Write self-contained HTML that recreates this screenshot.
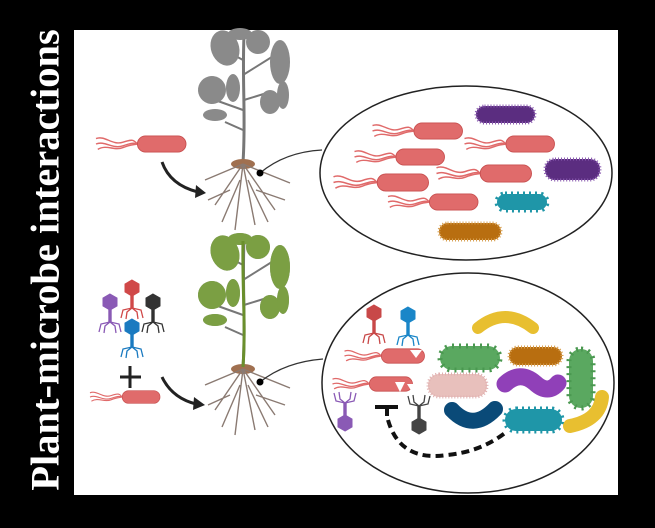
<!DOCTYPE html>
<html><head><meta charset="utf-8"><style>
html,body{margin:0;padding:0;background:#000}
#w{position:relative;width:655px;height:528px;background:#000;overflow:hidden}
#t{position:absolute;left:45px;top:260px;transform:translate(-50%,-50%) rotate(-90deg);white-space:nowrap;color:#fff;font:bold 40.5px "Liberation Serif",serif;}
svg{position:absolute;left:0;top:0}
</style></head><body><div id="w">
<svg width="655" height="528" viewBox="0 0 655 528">
<defs>
<symbol id="rod" viewBox="0 0 100 20" overflow="visible">
<path d="M0 4 C10 0 18 12 30 8 S42 6 46 10 M0 10 C10 6 18 16 30 12 S42 9 46 10 M2 16 C12 10 20 18 30 14 S42 11 46 10" stroke="#e06a6a" stroke-width="1.6" fill="none"/>
<rect x="46" y="1" width="54" height="18" rx="9" fill="#e06b6b" stroke="#c85050" stroke-width="1"/>
</symbol>
<symbol id="ph" viewBox="-12 -10 24 40" overflow="visible">
<polygon points="0,-8 7,-4 7,4 0,8 -7,4 -7,-4"/>
<rect x="-1.2" y="8" width="2.4" height="12"/>
<path d="M0 20 L-9 22 L-11 30 M0 20 L-5 24 L-6 31 M0 20 L9 22 L11 30 M0 20 L5 24 L6 31" fill="none" stroke-width="1.3"/>
</symbol>
<g id="plant">
<path d="M244 36 C242 80 246 120 243 162" stroke="#777" stroke-width="3" fill="none"/>
<path d="M243 75 L275 55 M244 100 L270 92 M243 60 L215 45 M243 110 L215 100 M243 130 L225 122" stroke="#777" stroke-width="2"/>
<g fill="#8a8a8a">
<ellipse cx="225" cy="48" rx="14" ry="18" transform="rotate(-20 225 48)"/>
<ellipse cx="258" cy="42" rx="12" ry="12"/>
<ellipse cx="280" cy="62" rx="10" ry="22"/>
<ellipse cx="212" cy="90" rx="14" ry="14" transform="rotate(30 212 90)"/>
<ellipse cx="233" cy="88" rx="7" ry="14"/>
<ellipse cx="270" cy="102" rx="10" ry="12"/>
<ellipse cx="215" cy="115" rx="12" ry="6"/>
<ellipse cx="240" cy="34" rx="12" ry="6"/>
<ellipse cx="283" cy="95" rx="6" ry="14"/>
</g>
<ellipse cx="243" cy="164" rx="12" ry="5" fill="#a07050"/>
<path d="M243 164 L235 230 M243 164 L255 225 M243 164 L215 205 M243 164 L275 210 M243 164 L205 180 M243 164 L290 183 M240 180 L222 222 M248 180 L268 222 M230 190 L208 200 M256 190 L285 200" stroke="#8a7a72" stroke-width="1.4" fill="none"/>
</g>
</defs>
<rect x="74" y="30" width="544" height="465" fill="#fff"/>
<use href="#plant"/>
<use href="#plant" transform="translate(0,205)"/>
<g transform="translate(0,205)" fill="#7aa23c" opacity="0.9">
<ellipse cx="225" cy="48" rx="14" ry="18" transform="rotate(-20 225 48)"/>
<ellipse cx="258" cy="42" rx="12" ry="12"/>
<ellipse cx="280" cy="62" rx="10" ry="22"/>
<ellipse cx="212" cy="90" rx="14" ry="14" transform="rotate(30 212 90)"/>
<ellipse cx="233" cy="88" rx="7" ry="14"/>
<ellipse cx="270" cy="102" rx="10" ry="12"/>
<ellipse cx="215" cy="115" rx="12" ry="6"/>
<ellipse cx="240" cy="34" rx="12" ry="6"/>
<ellipse cx="283" cy="95" rx="6" ry="14"/>
</g>
<path d="M243 36 C242 80 246 120 243 162" transform="translate(0,205)" stroke="#6a8f2c" stroke-width="3" fill="none"/>
<path d="M260 173 Q285 152 322 150" stroke="#333" stroke-width="1.3" fill="none"/><circle cx="260" cy="173" r="3.5"/>
<path d="M260 382 Q285 362 323 359" stroke="#333" stroke-width="1.3" fill="none"/><circle cx="260" cy="382" r="3.5"/>
<ellipse cx="466" cy="173" rx="146" ry="87" fill="none" stroke="#222" stroke-width="1.5"/>
<ellipse cx="468" cy="383" rx="146" ry="110" fill="none" stroke="#222" stroke-width="1.5"/>
<use href="#rod" x="93" y="135" width="96" height="18"/>
<path d="M162 162 Q170 185 198 192" stroke="#222" stroke-width="3" fill="none"/><polygon points="196,185 206,193 195,198" fill="#222"/>
<use href="#rod" x="367" y="122" width="101" height="18"/>
<use href="#rod" x="459" y="135" width="101" height="18"/>
<use href="#rod" x="350" y="148" width="99" height="18"/>
<use href="#rod" x="330" y="173" width="102" height="19"/>
<use href="#rod" x="434" y="164" width="100" height="19"/>
<use href="#rod" x="382" y="193" width="102" height="18"/>
<rect x="476" y="106" width="59" height="17" rx="8.5" fill="#5b2d80" stroke="#8a5ab0" stroke-width="3" stroke-dasharray="1 2"/>
<rect x="545" y="159" width="55" height="21" rx="10" fill="#5b2d80" stroke="#8a5ab0" stroke-width="3" stroke-dasharray="1 2"/>
<rect x="497" y="194" width="50" height="16" rx="8" fill="#1f96a8" stroke="#1f96a8" stroke-width="5" stroke-dasharray="2 4"/>
<rect x="439" y="223" width="62" height="17" rx="8.5" fill="#b86e10" stroke="#d8a050" stroke-width="3" stroke-dasharray="1 2"/>
<use href="#ph" x="98" y="292" width="24" height="40" fill="#8a5ab5" stroke="#8a5ab5"/>
<use href="#ph" x="120" y="278" width="24" height="40" fill="#d04848" stroke="#d04848"/>
<use href="#ph" x="141" y="292" width="24" height="40" fill="#333" stroke="#333"/>
<use href="#ph" x="120" y="317" width="24" height="40" fill="#1a7ac0" stroke="#1a7ac0"/>
<path d="M120 377 H141 M130 366 V388" stroke="#222" stroke-width="3"/>
<use href="#rod" x="87" y="390" width="76" height="14"/>
<path d="M162 377 Q172 398 196 404" stroke="#222" stroke-width="3" fill="none"/><polygon points="194,397 205,405 193,410" fill="#222"/>
<use href="#ph" x="362" y="303" width="24" height="40" fill="#c84848" stroke="#c84848"/>
<use href="#ph" x="396" y="305" width="24" height="40" fill="#1a86c8" stroke="#1a86c8"/>
<use href="#rod" x="342" y="348" width="85" height="16"/>
<use href="#rod" x="328" y="376" width="89" height="16"/>
<path d="M410 350 L416 358 L422 350 Z M395 382 L400 392 L405 382 Z M407 384 L412 392 L417 384Z" fill="#fff"/>
<use href="#ph" x="333" y="393" width="24" height="40" fill="#8a5ab5" stroke="#8a5ab5" transform="rotate(180 345 413)"/>
<use href="#ph" x="407" y="396" width="24" height="40" fill="#444" stroke="#444" transform="rotate(180 419 416)"/>
<path d="M375 407 H398 M387 407 V416" stroke="#111" stroke-width="4"/>
<path d="M388 420 Q400 462 447 455 Q480 452 505 433" stroke="#111" stroke-width="4" fill="none" stroke-dasharray="8 5"/>
<path d="M478 328 Q505 306 533 328" stroke="#e8bf30" stroke-width="12" stroke-linecap="round" fill="none"/>
<rect x="440" y="346" width="60" height="24" rx="12" fill="#5aa860" stroke="#4a9850" stroke-width="5" stroke-dasharray="2 5"/>
<rect x="509" y="347" width="53" height="18" rx="9" fill="#b86e10" stroke="#d8a050" stroke-width="3" stroke-dasharray="1 2"/>
<rect x="428" y="374" width="59" height="23" rx="11" fill="#e8c0bc" stroke="#e0b0b0" stroke-width="3" stroke-dasharray="1 2"/>
<path d="M505 384 Q520 370 535 383 Q548 395 558 383" stroke="#9040b8" stroke-width="17" stroke-linecap="round" fill="none"/>
<rect x="569" y="349" width="24" height="59" rx="12" fill="#5aa860" stroke="#4a9850" stroke-width="5" stroke-dasharray="2 5"/>
<path d="M452 410 Q473 432 495 409" stroke="#0a4a78" stroke-width="16" stroke-linecap="round" fill="none"/>
<rect x="505" y="409" width="57" height="22" rx="11" fill="#1f96a8" stroke="#1f96a8" stroke-width="5" stroke-dasharray="2 4"/>
<path d="M570 426 Q600 420 602 397" stroke="#e8bf30" stroke-width="14" stroke-linecap="round" fill="none"/>
</svg>
<div id="t">Plant-microbe interactions</div>
</div></body></html>
